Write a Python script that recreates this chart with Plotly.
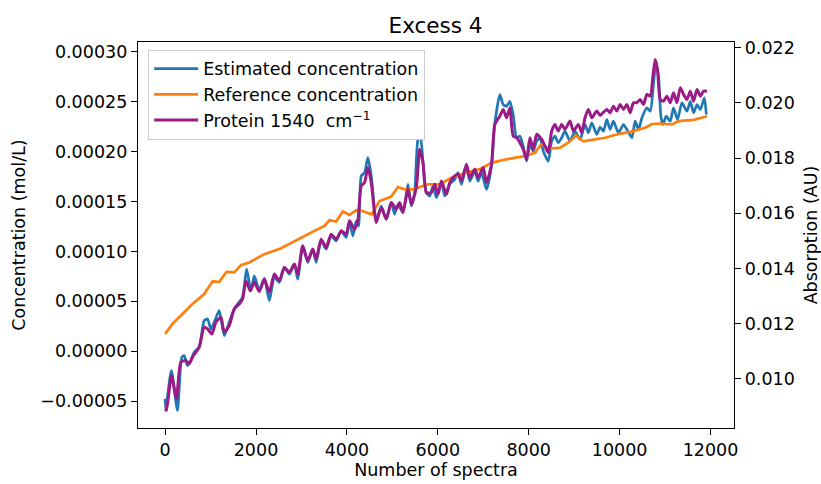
import plotly.graph_objects as go

# Reference concentration (left axis)
ref_x = [0, 161, 381, 602, 860, 1043, 1191, 1352, 1521, 1669, 1852, 2183, 2551, 2917, 3285,
         3506, 3616, 3764, 3910, 4057, 4205, 4322, 4542, 4719, 4977, 5122, 5270, 5453, 5784,
         6042, 6300, 6631, 6961, 7144, 7327, 7623, 7916, 8136, 8284, 8430, 8688, 8871, 9041,
         9202, 9459, 9680, 9938, 10158, 10304, 10562, 10710, 10893, 11151, 11290, 11627, 11922]
ref_y = [17.3, 27.3, 37.3, 47.3, 57.3, 70.0, 69.6, 79.6, 79.0, 86.3, 89.0, 97.3, 103.3, 112.3,
         120.6, 125.6, 131.3, 130.0, 140.0, 136.6, 141.3, 140.8, 137.3, 150.6, 155.0, 164.6,
         162.3, 162.3, 167.3, 167.3, 174.0, 179.0, 183.0, 188.3, 190.6, 193.3, 195.6, 198.8,
         207.8, 203.0, 204.0, 209.0, 216.3, 210.3, 212.3, 214.0, 217.3, 219.0, 220.6, 224.0,
         227.8, 228.3, 227.3, 230.6, 232.0, 235.6]
ref_y = [v * 1e-6 for v in ref_y]

# Estimated concentration (left axis)
est_x = [0, 15, 139, 271, 368, 419, 492, 567, 639, 750, 860, 933, 1008, 1080, 1191, 1301, 1411,
         1521, 1594, 1705, 1793, 1890, 1962, 2073, 2183, 2293, 2403, 2514, 2624, 2734, 2844,
         2917, 3028, 3138, 3248, 3323, 3433, 3543, 3654, 3764, 3874, 3985, 4057, 4130, 4205,
         4256, 4315, 4388, 4461, 4536, 4608, 4646, 4756, 4866, 4977, 5050, 5122, 5233, 5343,
         5418, 5490, 5563, 5616, 5674, 5749, 5821, 5894, 5969, 6079, 6152, 6262, 6372, 6445,
         6520, 6630, 6703, 6813, 6886, 6961, 7071, 7181, 7254, 7365, 7438, 7512, 7585, 7658,
         7733, 7806, 7879, 7953, 8026, 8099, 8174, 8247, 8320, 8430, 8505, 8577, 8650, 8725,
         8798, 8908, 9018, 9129, 9239, 9312, 9387, 9497, 9570, 9643, 9718, 9790, 9863, 9974,
         10084, 10159, 10269, 10342, 10415, 10490, 10600, 10673, 10746, 10798, 10855, 10908,
         10952, 11025, 11113, 11186, 11274, 11371, 11481, 11554, 11627, 11702, 11775, 11863, 11907]
est_y = [-47.7, -57.7, -19.4, -59.4, -6.0, -4.4, -14.4, -9.4, -1.0, 4.0, 30.6, 32.3, 22.3, 29.0,
         40.6, 15.6, 29.0, 42.3, 47.3, 54.0, 82.3, 60.6, 75.6, 61.0, 73.0, 50.6, 74.0, 69.0,
         84.0, 77.3, 87.3, 72.3, 105.6, 89.0, 102.3, 89.0, 110.6, 102.3, 115.6, 110.6, 120.6,
         114.0, 130.6, 115.6, 130.6, 125.6, 175.6, 179.0, 194.0, 175.6, 140.6, 130.6, 145.6,
         132.3, 149.0, 137.3, 147.3, 139.0, 167.3, 145.6, 159.0, 212.3, 215.6, 189.0, 159.0,
         155.6, 165.6, 154.0, 169.0, 155.6, 167.3, 172.3, 179.0, 167.3, 185.6, 170.6, 180.6,
         170.6, 179.0, 162.3, 185.6, 228.3, 257.3, 247.3, 245.6, 250.6, 237.3, 214.0, 215.6,
         205.6, 190.6, 207.3, 200.6, 210.6, 214.0, 200.6, 190.6, 210.6, 215.6, 209.0, 214.0,
         220.6, 210.6, 220.6, 212.3, 227.3, 219.0, 229.0, 217.3, 224.8, 220.6, 232.3, 222.3,
         230.6, 219.0, 227.3, 222.3, 214.0, 230.6, 222.3, 234.0, 244.0, 240.6, 269.0, 289.0,
         275.6, 235.6, 227.3, 235.6, 230.6, 244.0, 232.3, 249.0, 240.6, 250.6, 239.0, 247.3,
         242.3, 254.0, 237.3]
est_y = [v * 1e-6 for v in est_y]

# Protein 1540 cm-1 absorption (right axis)
prot_x = [0, 29, 139, 249, 346, 456, 529, 602, 750, 860, 933, 1030, 1118, 1228, 1301, 1411, 1521,
          1632, 1705, 1779, 1874, 1962, 2073, 2183, 2293, 2403, 2514, 2624, 2734, 2844, 2917,
          3028, 3138, 3248, 3323, 3433, 3543, 3654, 3764, 3874, 3985, 4057, 4167, 4240, 4315,
          4388, 4461, 4536, 4608, 4646, 4756, 4866, 4977, 5087, 5160, 5233, 5343, 5418, 5528,
          5601, 5674, 5749, 5859, 5932, 6004, 6079, 6190, 6262, 6372, 6445, 6520, 6630, 6703,
          6813, 6886, 6997, 7071, 7181, 7254, 7365, 7438, 7512, 7585, 7658, 7733, 7806, 7879,
          7953, 8026, 8099, 8174, 8284, 8357, 8430, 8505, 8577, 8650, 8725, 8798, 8908, 8982,
          9092, 9166, 9239, 9312, 9387, 9497, 9570, 9643, 9718, 9790, 9863, 9938, 10011, 10084,
          10159, 10231, 10304, 10378, 10451, 10524, 10600, 10673, 10732, 10782, 10833, 10893,
          10966, 11040, 11113, 11186, 11260, 11334, 11407, 11481, 11554, 11627, 11702, 11775,
          11847, 11922]
prot_y = [0.008915, 0.008853, 0.010119, 0.009277, 0.010604, 0.010662, 0.010543, 0.010785,
          0.011147, 0.011870, 0.011809, 0.011628, 0.012051, 0.012232, 0.011689, 0.011928,
          0.012532, 0.012713, 0.012894, 0.013556, 0.013194, 0.013498, 0.013165, 0.013617,
          0.013136, 0.013798, 0.013556, 0.014040, 0.013859, 0.014160, 0.013798, 0.014821,
          0.014279, 0.014702, 0.014340, 0.015064, 0.014764, 0.015245, 0.015064, 0.015364,
          0.015245, 0.015726, 0.015426, 0.015726, 0.016992, 0.017115, 0.017657, 0.017115,
          0.016030, 0.015668, 0.016210, 0.015787, 0.016391, 0.016149, 0.016391, 0.016030,
          0.016872, 0.016330, 0.016934, 0.018319, 0.017838, 0.016753, 0.016753, 0.017053,
          0.016691, 0.017173, 0.016691, 0.017115, 0.017354, 0.017415, 0.017173, 0.017777,
          0.017296, 0.017596, 0.017296, 0.017657, 0.017115, 0.017777, 0.019223, 0.019524,
          0.019766, 0.019466, 0.019827, 0.018800, 0.018742, 0.018561, 0.018319, 0.017957,
          0.018742, 0.018319, 0.018862, 0.018681, 0.018439, 0.018200, 0.018981, 0.019223,
          0.018981, 0.019223, 0.019043, 0.019343, 0.018981, 0.019223, 0.018923, 0.019466,
          0.019766, 0.019466, 0.019705, 0.019549, 0.019657, 0.019766, 0.019647, 0.019885,
          0.019705, 0.019947, 0.019766, 0.019947, 0.019647, 0.020008, 0.020008, 0.020128,
          0.019947, 0.020308, 0.020247, 0.020970, 0.021574, 0.021213, 0.020128, 0.020066,
          0.020247, 0.020008, 0.020370, 0.020008, 0.020551, 0.020308, 0.020128, 0.020428,
          0.020066, 0.020489, 0.020247, 0.020428, 0.020428]

FONT = "DejaVu Sans"
FS = 17.5
BLUE = "#1f77b4"
ORANGE = "#ff7f0e"
PURPLE = "#9b1b86"

fig = go.Figure()
fig.add_trace(go.Scatter(x=est_x, y=est_y, mode="lines", name="Estimated concentration",
                         line=dict(color=BLUE, width=2.7, shape="spline", smoothing=0.6)))
fig.add_trace(go.Scatter(x=ref_x, y=ref_y, mode="lines", name="Reference concentration",
                         line=dict(color=ORANGE, width=2.7)))
fig.add_trace(go.Scatter(x=prot_x, y=prot_y, mode="lines", name="Protein 1540 &nbsp;cm<sup>−1</sup>",
                         yaxis="y2",
                         line=dict(color=PURPLE, width=3.0, shape="spline", smoothing=0.6)))

axis_common = dict(showline=True, linecolor="black", linewidth=1.4, ticks="outside",
                   ticklen=6, tickwidth=1.4, tickcolor="black", showgrid=False, zeroline=False,
                   automargin=False,
                   tickfont=dict(family=FONT, size=FS, color="black"))

fig.update_layout(
    width=821, height=484,
    margin=dict(l=138, r=87, t=42, b=56),
    paper_bgcolor="white", plot_bgcolor="white",
    font=dict(family=FONT, size=FS, color="black"),
    title=dict(text="Excess 4", x=0.5305, xanchor="center", y=0.948, yanchor="middle",
               font=dict(family=FONT, size=21.5, color="black")),
    xaxis=dict(range=[-596, 12516], dtick=2000, tick0=0, tickformat="d", mirror=True,
               title=dict(text="Number of spectra", standoff=4,
                          font=dict(family=FONT, size=FS)), **axis_common),
    yaxis=dict(range=[-0.000077, 0.00031], dtick=0.00005, tick0=0, tickformat=".5f",
               title=dict(text="Concentration (mol/L)", standoff=10,
                          font=dict(family=FONT, size=FS)), **axis_common),
    yaxis2=dict(range=[0.008217, 0.02221], dtick=0.002, tick0=0, tickformat=".3f",
                overlaying="y", side="right",
                title=dict(text="Absorption (AU)", standoff=14,
                           font=dict(family=FONT, size=FS)), **axis_common),
    legend=dict(x=0.017, y=0.98, xanchor="left", yanchor="top", bgcolor="white",
                bordercolor="#cccccc", borderwidth=1,
                font=dict(family=FONT, size=FS, color="black"),
                tracegroupgap=0, itemwidth=44),
    showlegend=True,
)

fig.write_html("out.html")
